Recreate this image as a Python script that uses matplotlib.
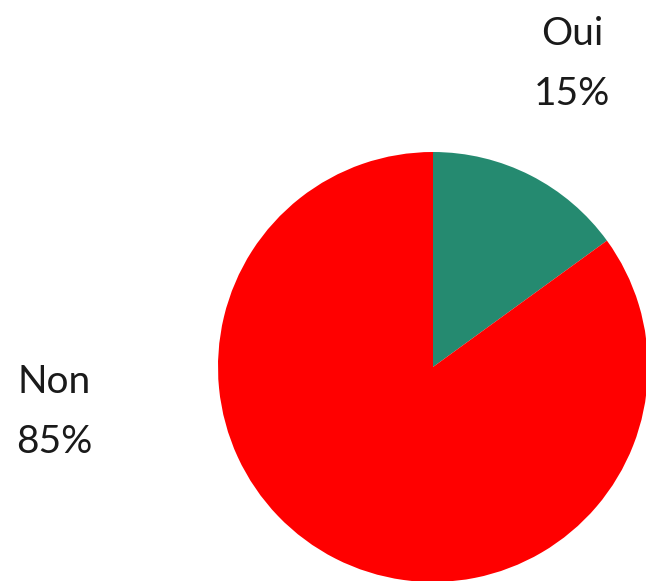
import matplotlib
matplotlib.use("Agg")
import matplotlib.pyplot as plt

labels = ["Oui", "Non"]
values = [15, 85]
colors = ["#258A70", "#FF0000"]

W, H = 646, 581
fig = plt.figure(figsize=(W / 100, H / 100), dpi=100)
ax = fig.add_axes([0, 0, 1, 1])

# pie in pixel coordinates (y measured from the bottom)
ax.pie(values, colors=colors, startangle=90, counterclock=False,
       center=(433, H - 367), radius=215, frame=True,
       wedgeprops=dict(linewidth=0))
ax.set_xlim(0, W)
ax.set_ylim(0, H)
ax.set_aspect("equal")
ax.axis("off")

font = dict(family="Lato", size=28, color="#1a1a1a", ha="center", va="center",
            linespacing=1.8)
ax.text(572, H - 64, f"{labels[0]}\n{values[0]}%", **font)
ax.text(54, H - 412, f"{labels[1]}\n{values[1]}%", **font)

fig.savefig("out.png", dpi=100)
